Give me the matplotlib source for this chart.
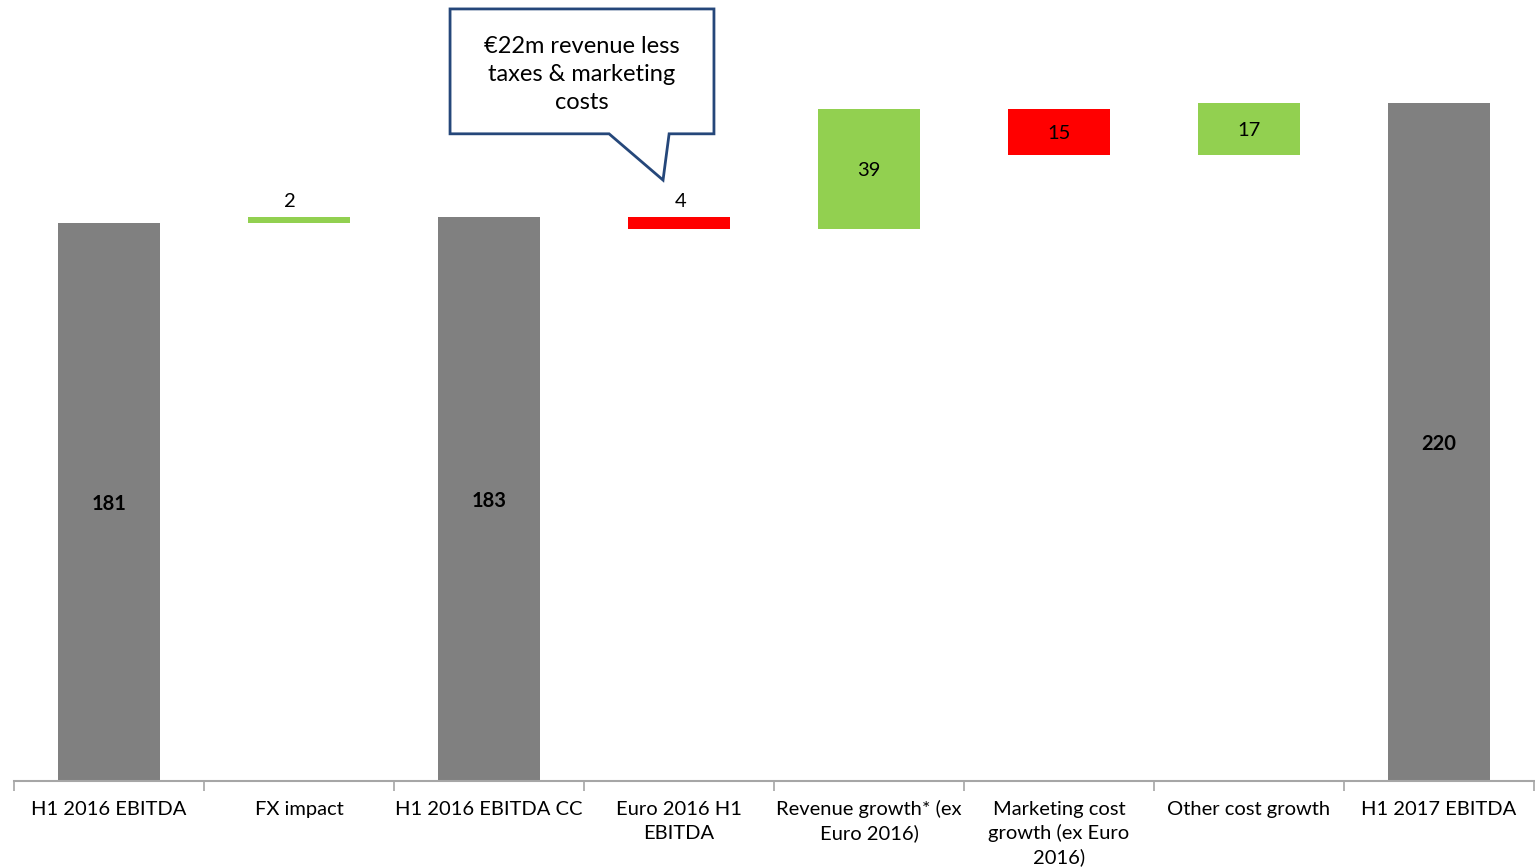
import matplotlib

matplotlib.use("Agg")
import matplotlib.pyplot as plt
import matplotlib.transforms as mtransforms
from matplotlib.patches import Polygon

categories = [
    "H1 2016 EBITDA",
    "FX impact",
    "H1 2016 EBITDA CC",
    "Euro 2016 H1\nEBITDA",
    "Revenue growth* (ex\nEuro 2016)",
    "Marketing cost\ngrowth (ex Euro\n2016)",
    "Other cost growth",
    "H1 2017 EBITDA",
]
values = [181, 2, 183, -4, 39, -15, 17, 220]
is_total = [True, False, True, False, False, False, False, True]
label_above = [False, True, False, True, False, False, False, False]
callout_text = "€22m revenue less\ntaxes & marketing\ncosts"

GRAY = "#808080"
GREEN = "#92D050"
RED = "#FF0000"
plt.rcParams["font.family"] = ["Lato", "DejaVu Sans"]

fig = plt.figure(figsize=(15.35, 8.68), dpi=100)
ax = fig.add_axes([14 / 1535, 87 / 868, 1520 / 1535, 781 / 868])

running = 0
for i, (v, tot) in enumerate(zip(values, is_total)):
    if tot:
        bottom, height, color = 0, v, GRAY
        running = v
    else:
        start = running
        running += v
        bottom, height = min(start, running), abs(v)
        color = GREEN if v > 0 else RED
    ax.bar(i, height, bottom=bottom, width=0.54, color=color, linewidth=0)
    txt = str(abs(v))
    if tot:
        ax.text(i, bottom + height / 2, txt, ha="center", va="center_baseline",
                fontsize=14.5, fontweight="bold", color="black")
    elif label_above[i]:
        ax.text(i + (-0.05 if i == 1 else 0.01), bottom + height + 2.3, txt,
                ha="center", va="bottom", fontsize=14.5, color="black")
    else:
        ax.text(i, bottom + height / 2, txt, ha="center", va="center_baseline",
                fontsize=14.5, color="black")

ax.set_xlim(-0.5, len(categories) - 0.5)
ax.set_ylim(0, 253.3)

for s in ["top", "right", "left"]:
    ax.spines[s].set_visible(False)
ax.spines["bottom"].set_color("#A6A6A6")
ax.spines["bottom"].set_linewidth(1.5)
ax.set_yticks([])
ax.set_xticks(range(len(categories)))
ax.set_xticklabels([])
ax.tick_params(axis="x", which="major", length=0)
ax.set_xticks([i - 0.5 for i in range(len(categories) + 1)], minor=True)
ax.tick_params(axis="x", which="minor", length=7, width=1.2, color="#A6A6A6")

# category labels, one line at a time so every first line shares a baseline
base = ax.get_xaxis_transform()
for i, lab in enumerate(categories):
    for j, line in enumerate(lab.split("\n")):
        tr = mtransforms.offset_copy(base, fig=fig, y=-(34 + 24 * j) * 0.72,
                                     units="points")
        ax.text(i, 0, line, transform=tr, ha="center", va="baseline",
                fontsize=14.5, clip_on=False)

# callout box pointing at the Euro 2016 bar
bx0, bx1, by0, by1 = 1.795, 3.184, 209.9, 250.4
tail = [(2.632, by0), (2.916, 194.9), (2.948, by0)]
pts = [(bx0, by0), (bx0, by1), (bx1, by1), (bx1, by0)] + tail[::-1]
ax.add_patch(Polygon(pts, closed=True, facecolor="white", edgecolor="#25477A",
                     linewidth=2, zorder=5, clip_on=False))
ax.text((bx0 + bx1) / 2, (by0 + by1) / 2 - 1.0, callout_text, ha="center",
        va="center", fontsize=17, linespacing=1.42, zorder=6)

fig.savefig("out.png", dpi=100)
